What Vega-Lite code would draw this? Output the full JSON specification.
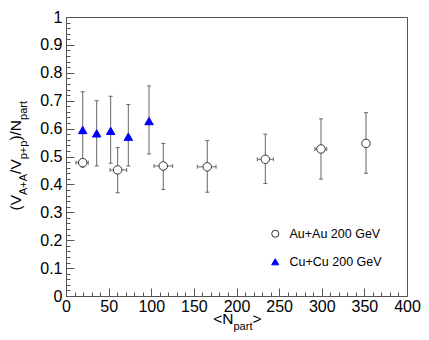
{
  "$schema": "https://vega.github.io/schema/vega-lite/v6.json",
  "width": 341,
  "height": 279,
  "autosize": {"type": "none"},
  "padding": {"left": 66, "top": 17, "right": 22, "bottom": 44},
  "background": "white",
  "config": {
    "font": "Liberation Sans",
    "view": {"stroke": "#555", "strokeWidth": 1},
    "axis": {"grid": false, "titleFontWeight": "normal", "titleColor": "#000", "titleFont": "Liberation Sans", "labelFont": "Liberation Sans", "labelColor": "#000"}
  },
  "data": {
    "values": [
      {"series": "Au+Au 200 GeV", "npart": 19.6, "v": 0.478, "vlo": null, "vhi": null, "xlo": 11.7, "xhi": 26.1},
      {"series": "Au+Au 200 GeV", "npart": 60.6, "v": 0.452, "vlo": 0.370, "vhi": 0.532, "xlo": 51.6, "xhi": 71.2},
      {"series": "Au+Au 200 GeV", "npart": 114.1, "v": 0.466, "vlo": 0.382, "vhi": 0.547, "xlo": 103.2, "xhi": 125.1},
      {"series": "Au+Au 200 GeV", "npart": 165.7, "v": 0.463, "vlo": 0.372, "vhi": 0.557, "xlo": 154, "xhi": 176},
      {"series": "Au+Au 200 GeV", "npart": 233.8, "v": 0.490, "vlo": 0.403, "vhi": 0.580, "xlo": 224.4, "xhi": 243.2},
      {"series": "Au+Au 200 GeV", "npart": 299.1, "v": 0.527, "vlo": 0.419, "vhi": 0.635, "xlo": 292, "xhi": 305.8},
      {"series": "Au+Au 200 GeV", "npart": 351.9, "v": 0.547, "vlo": 0.440, "vhi": 0.657, "xlo": null, "xhi": null},
      {"series": "Cu+Cu 200 GeV", "npart": 19.6, "v": 0.595, "vlo": 0.462, "vhi": 0.732, "xlo": null, "xhi": null},
      {"series": "Cu+Cu 200 GeV", "npart": 36.0, "v": 0.583, "vlo": 0.466, "vhi": 0.700, "xlo": null, "xhi": null},
      {"series": "Cu+Cu 200 GeV", "npart": 52.4, "v": 0.592, "vlo": 0.476, "vhi": 0.716, "xlo": null, "xhi": null},
      {"series": "Cu+Cu 200 GeV", "npart": 73.1, "v": 0.571, "vlo": 0.466, "vhi": 0.686, "xlo": null, "xhi": null},
      {"series": "Cu+Cu 200 GeV", "npart": 97.4, "v": 0.627, "vlo": 0.509, "vhi": 0.753, "xlo": null, "xhi": null}
    ]
  },
  "resolve": {"axis": {"x": "independent", "y": "independent"}},
  "layer": [
    {
      "transform": [{"filter": "datum.series == 'Au+Au 200 GeV'"}],
      "mark": {"type": "rule", "color": "#666", "strokeWidth": 1},
      "encoding": {
        "x": {"field": "npart", "type": "quantitative", "scale": {"domain": [0, 400], "nice": false},
          "axis": {"orient": "bottom", "values": [0, 50, 100, 150, 200, 250, 300, 350, 400], "ticks": false, "domain": true, "domainColor": "#555", "labelFontSize": 16, "labelPadding": 2, "labelFlush": false, "labelOverlap": false, "format": "d", "title": null}},
        "y": {"field": "vlo", "type": "quantitative", "scale": {"domain": [0, 1], "nice": false},
          "axis": {"orient": "left", "values": [0, 0.1, 0.2, 0.3, 0.4, 0.5, 0.6, 0.7, 0.8, 0.9, 1], "ticks": false, "domain": true, "domainColor": "#555", "labelFontSize": 16, "labelPadding": 4, "labelFlush": false, "labelOverlap": false, "format": "~r", "title": null}},
        "y2": {"field": "vhi"}
      }
    },
    {
      "transform": [{"filter": "datum.series == 'Au+Au 200 GeV'"}],
      "mark": {"type": "tick", "orient": "horizontal", "size": 4, "thickness": 1, "color": "#666", "opacity": 1},
      "encoding": {
        "x": {"field": "npart", "type": "quantitative", "scale": {"domain": [0, 400], "nice": false},
          "axis": {"orient": "bottom", "values": [0, 50, 100, 150, 200, 250, 300, 350, 400], "ticks": true, "tickSize": -8, "tickColor": "#555", "labels": false, "domain": false, "title": null}},
        "y": {"field": "vhi", "type": "quantitative", "scale": {"domain": [0, 1], "nice": false},
          "axis": {"orient": "left", "values": [0, 0.1, 0.2, 0.3, 0.4, 0.5, 0.6, 0.7, 0.8, 0.9, 1], "ticks": true, "tickSize": -8, "tickColor": "#555", "labels": false, "domain": false, "title": null}}
      }
    },
    {
      "transform": [{"filter": "datum.series == 'Au+Au 200 GeV'"}],
      "mark": {"type": "tick", "orient": "horizontal", "size": 4, "thickness": 1, "color": "#666", "opacity": 1},
      "encoding": {
        "x": {"field": "npart", "type": "quantitative", "scale": {"domain": [0, 400], "nice": false},
          "axis": {"orient": "bottom", "tickCount": 40, "ticks": true, "tickSize": -4, "tickColor": "#555", "labels": false, "domain": false, "title": null}},
        "y": {"field": "vlo", "type": "quantitative", "scale": {"domain": [0, 1], "nice": false},
          "axis": {"orient": "left", "tickCount": 50, "ticks": true, "tickSize": -4, "tickColor": "#555", "labels": false, "domain": false, "title": null}}
      }
    },
    {
      "transform": [{"filter": "datum.series == 'Au+Au 200 GeV'"}],
      "mark": {"type": "rule", "color": "#666", "strokeWidth": 1},
      "encoding": {
        "x": {"field": "xlo", "type": "quantitative", "scale": {"domain": [0, 400], "nice": false},
          "axis": {"orient": "bottom", "ticks": false, "labels": false, "domain": false, "title": "<N", "titleX": 146.7, "titleY": 27.3, "titleAngle": 0, "titleAlign": "left", "titleBaseline": "alphabetic", "titleFontSize": 15.5}},
        "x2": {"field": "xhi"},
        "y": {"field": "v", "type": "quantitative", "scale": {"domain": [0, 1], "nice": false},
          "axis": {"orient": "left", "ticks": false, "labels": false, "domain": false, "title": "(V", "titleX": -46, "titleY": 193, "titleAngle": 270, "titleAlign": "left", "titleBaseline": "alphabetic", "titleFontSize": 15.5}}
      }
    },
    {
      "transform": [{"filter": "datum.series == 'Au+Au 200 GeV'"}],
      "mark": {"type": "tick", "orient": "vertical", "size": 4, "thickness": 1, "color": "#666", "opacity": 1},
      "encoding": {
        "x": {"field": "xlo", "type": "quantitative", "scale": {"domain": [0, 400], "nice": false},
          "axis": {"orient": "bottom", "ticks": false, "labels": false, "domain": false, "title": "part", "titleX": 167, "titleY": 33, "titleAngle": 0, "titleAlign": "left", "titleBaseline": "alphabetic", "titleFontSize": 11}},
        "y": {"field": "v", "type": "quantitative", "scale": {"domain": [0, 1], "nice": false},
          "axis": {"orient": "left", "ticks": false, "labels": false, "domain": false, "title": "A+A", "titleX": -40, "titleY": 177.5, "titleAngle": 270, "titleAlign": "left", "titleBaseline": "alphabetic", "titleFontSize": 11}}
      }
    },
    {
      "transform": [{"filter": "datum.series == 'Au+Au 200 GeV'"}],
      "mark": {"type": "tick", "orient": "vertical", "size": 4, "thickness": 1, "color": "#666", "opacity": 1},
      "encoding": {
        "x": {"field": "xhi", "type": "quantitative", "scale": {"domain": [0, 400], "nice": false},
          "axis": {"orient": "bottom", "ticks": false, "labels": false, "domain": false, "title": ">", "titleX": 186, "titleY": 27.3, "titleAngle": 0, "titleAlign": "left", "titleBaseline": "alphabetic", "titleFontSize": 15.5}},
        "y": {"field": "v", "type": "quantitative", "scale": {"domain": [0, 1], "nice": false},
          "axis": {"orient": "left", "ticks": false, "labels": false, "domain": false, "title": "/V", "titleX": -46, "titleY": 156.4, "titleAngle": 270, "titleAlign": "left", "titleBaseline": "alphabetic", "titleFontSize": 15.5}}
      }
    },
    {
      "transform": [{"filter": "datum.series == 'Cu+Cu 200 GeV'"}],
      "mark": {"type": "rule", "color": "#666", "strokeWidth": 1},
      "encoding": {
        "x": {"field": "npart", "type": "quantitative", "scale": {"domain": [0, 400], "nice": false}, "axis": null},
        "y": {"field": "vlo", "type": "quantitative", "scale": {"domain": [0, 1], "nice": false},
          "axis": {"orient": "left", "ticks": false, "labels": false, "domain": false, "title": "p+p", "titleX": -40, "titleY": 141.8, "titleAngle": 270, "titleAlign": "left", "titleBaseline": "alphabetic", "titleFontSize": 11}},
        "y2": {"field": "vhi"}
      }
    },
    {
      "transform": [{"filter": "datum.series == 'Cu+Cu 200 GeV'"}],
      "mark": {"type": "tick", "orient": "horizontal", "size": 4, "thickness": 1, "color": "#666", "opacity": 1},
      "encoding": {
        "x": {"field": "npart", "type": "quantitative", "scale": {"domain": [0, 400], "nice": false}, "axis": null},
        "y": {"field": "vhi", "type": "quantitative", "scale": {"domain": [0, 1], "nice": false},
          "axis": {"orient": "left", "ticks": false, "labels": false, "domain": false, "title": ")/N", "titleX": -46, "titleY": 123.1, "titleAngle": 270, "titleAlign": "left", "titleBaseline": "alphabetic", "titleFontSize": 15.5}}
      }
    },
    {
      "transform": [{"filter": "datum.series == 'Cu+Cu 200 GeV'"}],
      "mark": {"type": "tick", "orient": "horizontal", "size": 4, "thickness": 1, "color": "#666", "opacity": 1},
      "encoding": {
        "x": {"field": "npart", "type": "quantitative", "scale": {"domain": [0, 400], "nice": false}, "axis": null},
        "y": {"field": "vlo", "type": "quantitative", "scale": {"domain": [0, 1], "nice": false},
          "axis": {"orient": "left", "ticks": false, "labels": false, "domain": false, "title": "part", "titleX": -40, "titleY": 102.4, "titleAngle": 270, "titleAlign": "left", "titleBaseline": "alphabetic", "titleFontSize": 11}}
      }
    },
    {
      "mark": {"type": "point", "filled": true, "opacity": 1, "strokeWidth": 1, "size": 72},
      "encoding": {
        "x": {"field": "npart", "type": "quantitative", "scale": {"domain": [0, 400], "nice": false}, "axis": null},
        "y": {"field": "v", "type": "quantitative", "scale": {"domain": [0, 1], "nice": false}, "axis": null},
        "shape": {"field": "series", "type": "nominal", "scale": {"domain": ["Au+Au 200 GeV", "Cu+Cu 200 GeV"], "range": ["circle", "triangle-up"]},
          "legend": {"orient": "none", "legendX": 203, "legendY": 210.5, "title": null, "labelFontSize": 12.5, "labelFont": "Liberation Sans", "labelColor": "#000", "labelOffset": 8, "rowPadding": 15, "symbolSize": 50, "symbolStrokeWidth": 1}},
        "fill": {"field": "series", "type": "nominal", "scale": {"domain": ["Au+Au 200 GeV", "Cu+Cu 200 GeV"], "range": ["#ffffff", "#0000ff"]},
          "legend": {"orient": "none", "legendX": 203, "legendY": 210.5, "title": null, "labelFontSize": 12.5, "labelFont": "Liberation Sans", "labelColor": "#000", "labelOffset": 8, "rowPadding": 15, "symbolSize": 50, "symbolStrokeWidth": 1}},
        "stroke": {"field": "series", "type": "nominal", "scale": {"domain": ["Au+Au 200 GeV", "Cu+Cu 200 GeV"], "range": ["#333333", "#0000ff"]},
          "legend": {"orient": "none", "legendX": 203, "legendY": 210.5, "title": null, "labelFontSize": 12.5, "labelFont": "Liberation Sans", "labelColor": "#000", "labelOffset": 8, "rowPadding": 15, "symbolSize": 50, "symbolStrokeWidth": 1}}
      }
    }
  ]
}
